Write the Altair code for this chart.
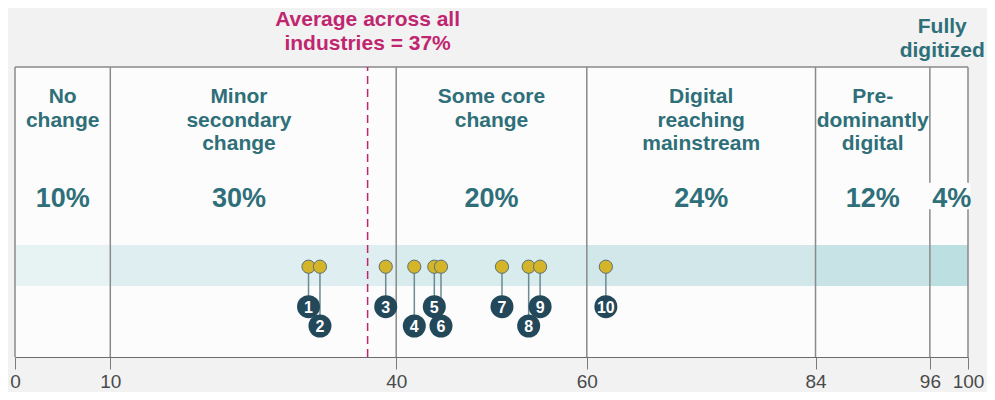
import altair as alt
import pandas as pd

# ---------------- data ----------------
seg_start = [0, 10, 40, 60, 84, 96]
seg_end = [10, 40, 60, 84, 96, 100]
seg_names = ["No\nchange", "Minor\nsecondary\nchange", "Some core\nchange",
             "Digital\nreaching\nmainstream", "Pre-\ndominantly\ndigital", ""]
seg_shares = ["10%", "30%", "20%", "24%", "12%", "4%"]
seg_label_pos = [5, 23.5, 50, 72, 90, 98.3]
band_colors = ["#e7f2f3", "#dfeef0", "#d8ebed", "#d1e7ea", "#c8e3e6", "#bcdfe2"]

industry_ids = [1, 2, 3, 4, 5, 6, 7, 8, 9, 10]
industry_values = [30.8, 32.0, 38.9, 41.9, 44.0, 44.7, 51.1, 53.9, 55.1, 62.0]
industry_rows = ["upper", "lower", "upper", "lower", "upper", "lower",
                 "upper", "lower", "upper", "upper"]

axis_ticks = [0, 10, 40, 60, 84, 96, 100]
average_value = 37
average_label = "Average across all\nindustries = 37%"
top_right_label = "Fully\ndigitized"
top_right_pos = 97.3

# ---------------- layout (vertical positions, px from plot bottom) ----------------
H = 290
BAND_LO, BAND_HI = 71, 112
POINT_Y = 90.3
ROW_Y = {"upper": 50.3, "lower": 31.0}
NAME_Y = 270.6
SHARE_Y = 150.5
HEAD_Y = 347.6
FULLY_Y = 340.6

TEAL = "#2e6f79"
MAGENTA = "#c0266f"
NAVY = "#23485a"
LINE = "#8a8a8a"
FONT = "Liberation Sans"

xs = alt.Scale(domain=[0, 100], nice=False, zero=False)
ys = alt.Scale(domain=[0, H], nice=False, zero=False)

x_axis = alt.Axis(values=axis_ticks, title=None, grid=False, tickSize=12,
                  labelPadding=3, labelFontSize=19, labelColor="#4a4a4a",
                  labelFont=FONT, labelFontWeight="normal", domainColor="#6b6b6b",
                  tickColor="#7a7a7a", labelFlush=False, labelOverlap=False,
                  format="d")


def X(field):
    return alt.X(field, scale=xs, axis=x_axis, title=None)


def Y(field):
    return alt.Y(field, scale=ys, axis=None)


seg = pd.DataFrame({"start": seg_start, "end": seg_end, "name": seg_names,
                    "share": seg_shares, "pos": seg_label_pos, "color": band_colors})
seg["y0"] = BAND_LO
seg["y1"] = BAND_HI
seg["ny"] = NAME_Y
seg["sy"] = SHARE_Y

ind = pd.DataFrame({"id": industry_ids, "value": industry_values, "row": industry_rows})
ind["py"] = POINT_Y
ind["ly"] = [ROW_Y[r] for r in industry_rows]
ind["label"] = ind["id"].astype(str)

lines = pd.DataFrame({"x": [0] + seg_start[1:] + [100]})
lines["y0"] = 0
lines["y1"] = H

band = alt.Chart(seg).mark_rect().encode(
    x=X("start:Q"), x2="end:Q",
    y=Y("y0:Q"), y2="y1:Q",
    color=alt.Color("color:N", scale=None),
)

dividers = alt.Chart(lines).mark_rule(color=LINE, strokeWidth=1.5).encode(
    x=X("x:Q"), y=Y("y0:Q"), y2="y1:Q",
)

top_frame = alt.Chart(pd.DataFrame({"a": [0], "b": [100], "y": [H]})).mark_rule(
    color=LINE, strokeWidth=1.5).encode(
    x=X("a:Q"), x2="b:Q", y=Y("y:Q"),
)

share_bg = alt.Chart(pd.DataFrame({"a": [95.9], "b": [100.3], "y0": [147.7], "y1": [174.3]})).mark_rect(
    color="#fcfcfc").encode(
    x=X("a:Q"), x2="b:Q", y=Y("y0:Q"), y2="y1:Q",
)

avg = alt.Chart(pd.DataFrame({"x": [average_value], "y0": [0], "y1": [H]})).mark_rule(
    color=MAGENTA, strokeWidth=1.5, strokeDash=[8, 5]).encode(
    x=X("x:Q"), y=Y("y0:Q"), y2="y1:Q",
)

stems = alt.Chart(ind).mark_rule(color="#6b8a92", strokeWidth=1.5).encode(
    x=X("value:Q"), y=Y("py:Q"), y2="ly:Q",
)

points = alt.Chart(ind).mark_point(filled=True, fill="#d4b52a", stroke="#5b7075",
                                   strokeWidth=1, size=175, opacity=1,
                                   fillOpacity=1, shape="circle").encode(
    x=X("value:Q"), y=Y("py:Q"),
)

badges = alt.Chart(ind).mark_circle(color=NAVY, size=529, opacity=1).encode(
    x=X("value:Q"), y=Y("ly:Q"),
)

badge_text = alt.Chart(ind).mark_text(color="white", font=FONT, fontWeight="bold",
                                      fontSize=16, baseline="middle", dy=1).encode(
    x=X("value:Q"), y=Y("ly:Q"), text="label:N",
)

names = alt.Chart(seg).mark_text(color=TEAL, font=FONT, fontWeight="bold", fontSize=21,
                                 baseline="top", align="center", lineBreak="\n",
                                 lineHeight=23.5).encode(
    x=X("pos:Q"), y=Y("ny:Q"), text="name:N",
)

shares = alt.Chart(seg).mark_text(color=TEAL, font=FONT, fontWeight="bold", fontSize=27,
                                  baseline="alphabetic", align="center").encode(
    x=X("pos:Q"), y=Y("sy:Q"), text="share:N",
)

head = alt.Chart(pd.DataFrame({"x": [average_value], "y": [HEAD_Y], "t": [average_label]})).mark_text(
    color=MAGENTA, font=FONT, fontWeight="bold", fontSize=21, baseline="top",
    align="center", lineBreak="\n", lineHeight=24).encode(
    x=X("x:Q"), y=Y("y:Q"), text="t:N",
)

fully = alt.Chart(pd.DataFrame({"x": [top_right_pos], "y": [FULLY_Y], "t": [top_right_label]})).mark_text(
    color=TEAL, font=FONT, fontWeight="bold", fontSize=21, baseline="top",
    align="center", lineBreak="\n", lineHeight=24).encode(
    x=X("x:Q"), y=Y("y:Q"), text="t:N",
)

chart = alt.layer(
    band, dividers, top_frame, avg, share_bg, stems, points, badges, badge_text,
    names, shares, head, fully
).properties(
    width=953, height=H,
    autosize=alt.AutoSizeParams(type="none"),
    padding={"left": 7, "top": 59, "right": 19, "bottom": 35},
    background="#f2f2f2",
).configure_view(fill="#fcfcfc", strokeWidth=0)

chart.save("out.html", embed_options={"renderer": "svg", "actions": False})
